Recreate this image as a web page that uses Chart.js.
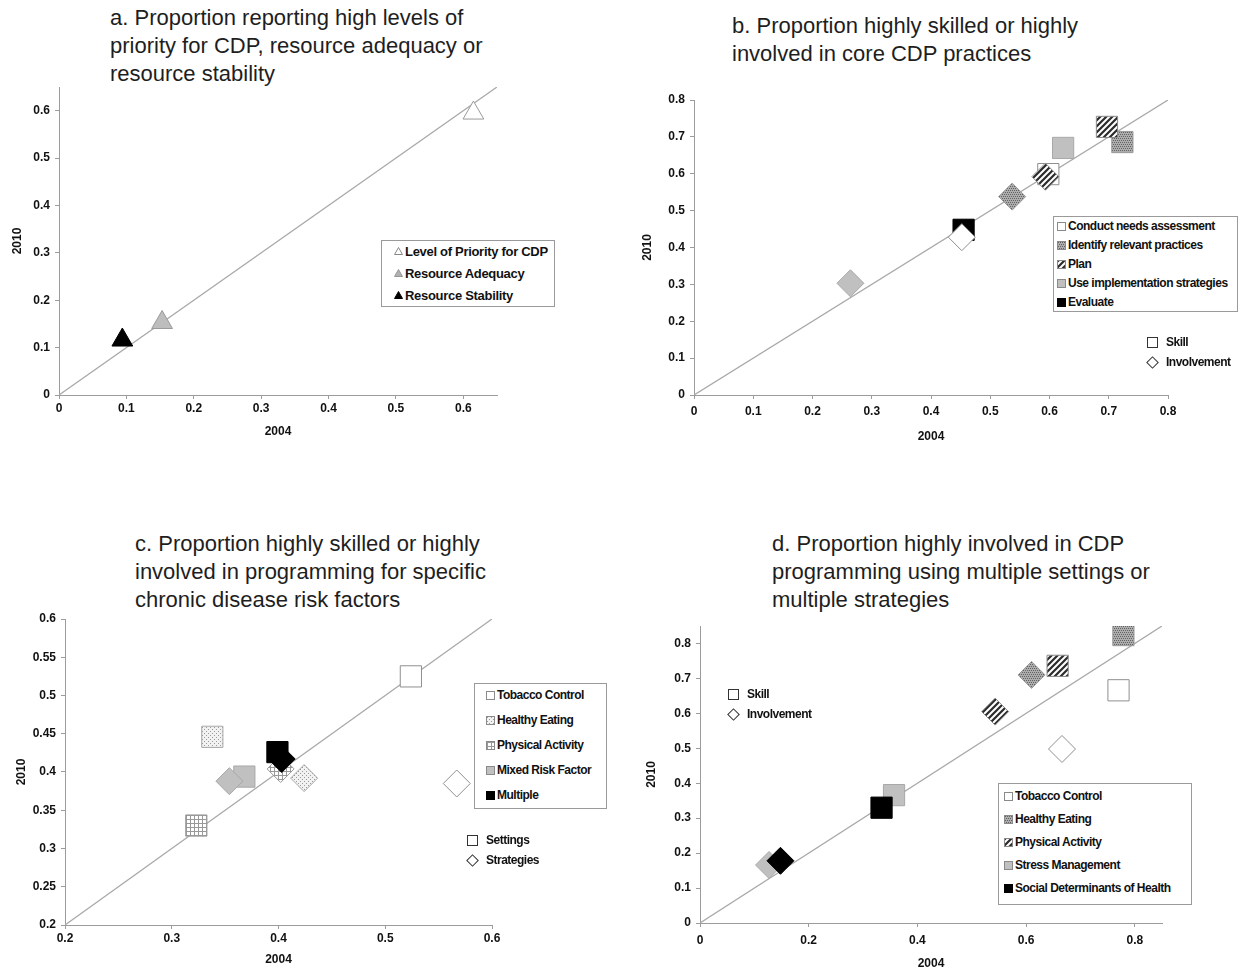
<!DOCTYPE html>
<html>
<head>
<meta charset="utf-8">
<script src="https://cdn.jsdelivr.net/npm/chart.js@4.4.1/dist/chart.umd.min.js"></script>
<style>
body{margin:0;background:#fff;width:1239px;height:970px;overflow:hidden;position:relative;font-family:Arial,"Liberation Sans",sans-serif;}
.box{position:absolute;}
.ttl{position:absolute;font-size:22px;line-height:28px;color:#1e1e1e;white-space:nowrap;}
.leg{position:absolute;border:1px solid #9a9a9a;background:#fff;}
.row{position:absolute;height:14px;font-size:12px;font-weight:bold;letter-spacing:-0.5px;white-space:nowrap;color:#111;display:flex;align-items:center;}
.big{font-size:13px;letter-spacing:-0.3px;}
.sw{display:inline-block;width:7px;height:7px;border:1px solid #8a8a8a;margin-right:2px;flex:none;}
.shp{display:inline-block;width:9px;height:9px;border:1.6px solid #333;margin-right:8px;flex:none;}
.dia{transform:rotate(45deg);width:7px;height:7px;margin-left:1px;margin-right:9px;}
</style>
</head>
<body>

<div class="ttl" style="left:110px;top:4px">a. Proportion reporting high levels of<br>priority for CDP, resource adequacy or<br>resource stability</div>
<div class="ttl" style="left:732px;top:12px">b. Proportion highly skilled or highly<br>involved in core CDP practices</div>
<div class="ttl" style="left:135px;top:530px">c. Proportion highly skilled or highly<br>involved in programming for specific<br>chronic disease risk factors</div>
<div class="ttl" style="left:772px;top:530px">d. Proportion highly involved in CDP<br>programming using multiple settings or<br>multiple strategies</div>

<div class="box" style="left:0px;top:74px;width:517px;height:367px"><canvas id="chartA"></canvas></div>
<div class="box" style="left:635px;top:84px;width:553px;height:362px"><canvas id="chartB"></canvas></div>
<div class="box" style="left:6px;top:603px;width:506px;height:366px"><canvas id="chartC"></canvas></div>
<div class="box" style="left:641px;top:610px;width:541px;height:363px"><canvas id="chartD"></canvas></div>

<script>
// a. priority / resources
const aLabels = ['Level of Priority for CDP', 'Resource Adequacy', 'Resource Stability'];
const a2004 = [0.615, 0.153, 0.094];
const a2010 = [0.595, 0.153, 0.116];

// b. core CDP practices (skill = square, involvement = diamond)
const bLabels = ['Conduct needs assessment', 'Identify relevant practices', 'Plan', 'Use implementation  strategies', 'Evaluate'];
const bSkill2004 = [0.598, 0.723, 0.697, 0.623, 0.455];
const bSkill2010 = [0.599, 0.686, 0.727, 0.670, 0.448];
const bInv2004 = [0.452, 0.537, 0.593, 0.264, null];
const bInv2010 = [0.428, 0.538, 0.592, 0.303, null];

// c. risk factors (settings = square, strategies = diamond)
const cLabels = ['Tobacco Control', 'Healthy Eating', 'Physical Activity', 'Mixed Risk Factor', 'Multiple'];
const cSet2004 = [0.524, 0.338, 0.323, 0.368, 0.399];
const cSet2010 = [0.525, 0.446, 0.330, 0.394, 0.426];
const cStr2004 = [0.567, 0.424, 0.402, 0.354, 0.403];
const cStr2010 = [0.385, 0.392, 0.404, 0.388, 0.417];

// d. multiple settings / strategies (skill = square, involvement = diamond)
const dLabels = ['Tobacco Control', 'Healthy Eating', 'Physical Activity', 'Stress Management', 'Social Determinants of Health'];
const dSkill2004 = [0.770, 0.779, 0.658, 0.357, 0.334];
const dSkill2010 = [0.666, 0.824, 0.736, 0.366, 0.330];
const dInv2004 = [0.666, 0.610, 0.543, 0.127, 0.148];
const dInv2010 = [0.498, 0.710, 0.605, 0.166, 0.178];

const F = 'Arial, "Liberation Sans", sans-serif';

// fill patterns for the markers
function patCanvas(kind) {
    const c = document.createElement('canvas');
    const g = c.getContext('2d');
    if (kind === 'dots') {
        c.width = c.height = 4;
        g.fillStyle = '#adadad'; g.fillRect(0, 0, 4, 4);
        g.fillStyle = '#626262';
        g.fillRect(0, 0, 1, 1); g.fillRect(2, 0, 1, 1); g.fillRect(1, 2, 1, 1); g.fillRect(3, 2, 1, 1);
    } else if (kind === 'lightdots') {
        c.width = c.height = 4;
        g.fillStyle = '#f2f2f2'; g.fillRect(0, 0, 4, 4);
        g.fillStyle = '#9a9a9a';
        g.fillRect(0, 0, 1, 1); g.fillRect(2, 2, 1, 1);
    } else if (kind === 'hatch') {
        c.width = c.height = 6;
        g.fillStyle = '#fff'; g.fillRect(0, 0, 6, 6);
        g.strokeStyle = '#2b2b2b'; g.lineWidth = 2.2;
        g.beginPath();
        g.moveTo(0, 6); g.lineTo(6, 0);
        g.moveTo(-3, 3); g.lineTo(3, -3);
        g.moveTo(3, 9); g.lineTo(9, 3);
        g.stroke();
    } else if (kind === 'grid') {
        c.width = c.height = 4;
        g.fillStyle = '#fff'; g.fillRect(0, 0, 4, 4);
        g.fillStyle = '#999';
        g.fillRect(0, 0, 4, 1); g.fillRect(0, 0, 1, 4);
    }
    return c;
}
const pats = {};
['dots', 'lightdots', 'hatch', 'grid'].forEach(k => { pats[k] = patCanvas(k); });
const probe = document.createElement('canvas').getContext('2d');
function fill(k) {
    if (k === 'white') return '#ffffff';
    if (k === 'gray') return '#c0c0c0';
    if (k === 'black') return '#000000';
    return probe.createPattern(pats[k], 'repeat');
}
function css(k) {
    if (k === 'white') return 'background:#fff';
    if (k === 'gray') return 'background:#c0c0c0';
    if (k === 'black') return 'background:#000;border-color:#000';
    return 'background:url(' + pats[k].toDataURL() + ')';
}
const edge = {white: '#8f8f8f', gray: '#a8a8a8', black: '#000', dots: '#9a9a9a', lightdots: '#a8a8a8', hatch: '#8a8a8a', grid: '#999'};

const bFill = ['white', 'dots', 'hatch', 'gray', 'black'];
const cFill = ['white', 'lightdots', 'grid', 'gray', 'black'];
const dFill = ['white', 'dots', 'hatch', 'gray', 'black'];

function pts(xs, ys) {
    return xs.map((x, i) => ({x: x, y: ys[i]})).filter(p => p.x !== null);
}

function marks(xs, ys, kinds, style, radius, order) {
    const keep = xs.map((x, i) => i).filter(i => xs[i] !== null);
    return {
        data: pts(xs, ys),
        pointStyle: style,
        pointRadius: radius,
        pointHoverRadius: radius,
        pointBackgroundColor: keep.map(i => fill(kinds[i])),
        pointBorderColor: keep.map(i => edge[kinds[i]]),
        pointBorderWidth: 1,
        order: order
    };
}

function axis(min, max, step, title, size, tickPad, titlePad, isX) {
    return {
        type: 'linear', min: min, max: max,
        ticks: {
            stepSize: step, includeBounds: false, autoSkip: false, maxRotation: 0,
            padding: tickPad, color: '#111',
            font: {family: F, size: 12, weight: 'bold'},
            callback: v => String(+(+v).toFixed(2))
        },
        grid: {drawOnChartArea: false, tickLength: 4, color: '#9c9c9c', lineWidth: 1},
        border: {color: '#9c9c9c', width: 1},
        title: {
            display: true, text: title, color: '#111',
            font: {family: F, size: 12, weight: 'bold'},
            padding: isX ? {top: 0, bottom: titlePad} : {top: titlePad, bottom: 0}
        },
        afterFit: s => { if (isX) s.height = size; else s.width = size; }
    };
}

function makeChart(id, sets, lo, hi, xs, ys) {
    sets.push({
        data: [{x: lo, y: lo}, {x: hi, y: hi}],
        showLine: true, pointRadius: 0, pointHoverRadius: 0,
        borderColor: '#a9a9a9', borderWidth: 1.3, order: 10
    });
    return new Chart(document.getElementById(id), {
        type: 'scatter',
        data: {datasets: sets},
        options: {
            responsive: true, maintainAspectRatio: false, animation: false, events: [],
            layout: {padding: {top: 10, right: 20, left: 0, bottom: 0}},
            plugins: {legend: {display: false}, tooltip: {enabled: false}},
            scales: {x: xs, y: ys}
        }
    });
}

// a
const aEdge = ['#9a9a9a', '#9a9a9a', '#000'];
makeChart('chartA', [{
    data: pts(a2004, a2010), pointStyle: 'triangle', pointRadius: 12, pointHoverRadius: 12,
    pointBackgroundColor: ['#ffffff', '#bdbdbd', '#000000'], pointBorderColor: aEdge, pointBorderWidth: 1, order: 1
}], 0, 0.65,
    axis(0, 0.65, 0.1, '2004', 46, 2, 1.8, true),
    axis(0, 0.65, 0.1, '2010', 59, 5, 10.8, false));

// b
makeChart('chartB', [
    marks(bSkill2004, bSkill2010, bFill, 'rect', 15, 2),
    marks(bInv2004, bInv2010, bFill, 'rectRot', 13.5, 1)
], 0, 0.8,
    axis(0, 0.8, 0.1, '2004', 51, 5, 1.8, true),
    axis(0, 0.8, 0.1, '2010', 59, 5, 5.8, false));

// c
makeChart('chartC', [
    marks(cSet2004, cSet2010, cFill, 'rect', 15, 2),
    marks(cStr2004, cStr2010, cFill, 'rectRot', 13.5, 1)
], 0.2, 0.6,
    axis(0.2, 0.6, 0.1, '2004', 44, 2, 1.8, true),
    axis(0.2, 0.6, 0.05, '2010', 59, 5, 8.8, false));

// d
makeChart('chartD', [
    marks(dSkill2004, dSkill2010, dFill, 'rect', 15, 2),
    marks(dInv2004, dInv2010, dFill, 'rectRot', 13.5, 1)
], 0, 0.85,
    axis(0, 0.85, 0.2, '2004', 50, 6, 1.8, true),
    axis(0, 0.85, 0.1, '2010', 59, 5, 3.8, false));

// legends
function addDiv(html, style, cls) {
    const el = document.createElement('div');
    el.className = cls;
    el.setAttribute('style', style);
    el.innerHTML = html;
    document.body.appendChild(el);
    return el;
}
function boxLegend(l, t, w, h, labels, swatches, rowY, swX, extra) {
    addDiv('', 'left:' + l + 'px;top:' + t + 'px;width:' + w + 'px;height:' + h + 'px', 'leg');
    labels.forEach((lab, i) => {
        addDiv(swatches[i] + '<span>' + lab + '</span>', 'left:' + swX + 'px;top:' + (rowY[i] - 7) + 'px', 'row' + (extra || ''));
    });
}
function tri(col, stroke) {
    return '<svg width="9" height="8" style="margin-right:2px;flex:none"><polygon points="4.5,0.5 8.5,7.5 0.5,7.5" fill="' + col + '" stroke="' + stroke + '" stroke-width="1"/></svg>';
}
boxLegend(381, 240, 172, 65, aLabels,
    [tri('#fff', '#888'), tri('#b0b0b0', '#999'), tri('#000', '#000')],
    [251, 273, 295], 394, ' big');
boxLegend(1053, 216, 183, 94, bLabels,
    bFill.map(k => '<span class="sw" style="' + css(k) + '"></span>'),
    [226, 245, 264, 283, 302], 1057);
boxLegend(474, 683, 131, 124, cLabels,
    cFill.map(k => '<span class="sw" style="' + css(k) + '"></span>'),
    [695, 720, 745, 770, 795], 486);
boxLegend(998, 783, 192, 120, dLabels,
    dFill.map(k => '<span class="sw" style="' + css(k) + '"></span>'),
    [796, 819, 842, 865, 888], 1004);

function shapeLegend(x, y, a, b) {
    addDiv('<span class="shp"></span><span>' + a + '</span>', 'left:' + x + 'px;top:' + (y - 7) + 'px', 'row');
    addDiv('<span class="shp dia"></span><span>' + b + '</span>', 'left:' + x + 'px;top:' + (y + 13) + 'px', 'row');
}
shapeLegend(1147, 342, 'Skill', 'Involvement');
shapeLegend(467, 840, 'Settings', 'Strategies');
shapeLegend(728, 694, 'Skill', 'Involvement');
</script>
</body>
</html>
